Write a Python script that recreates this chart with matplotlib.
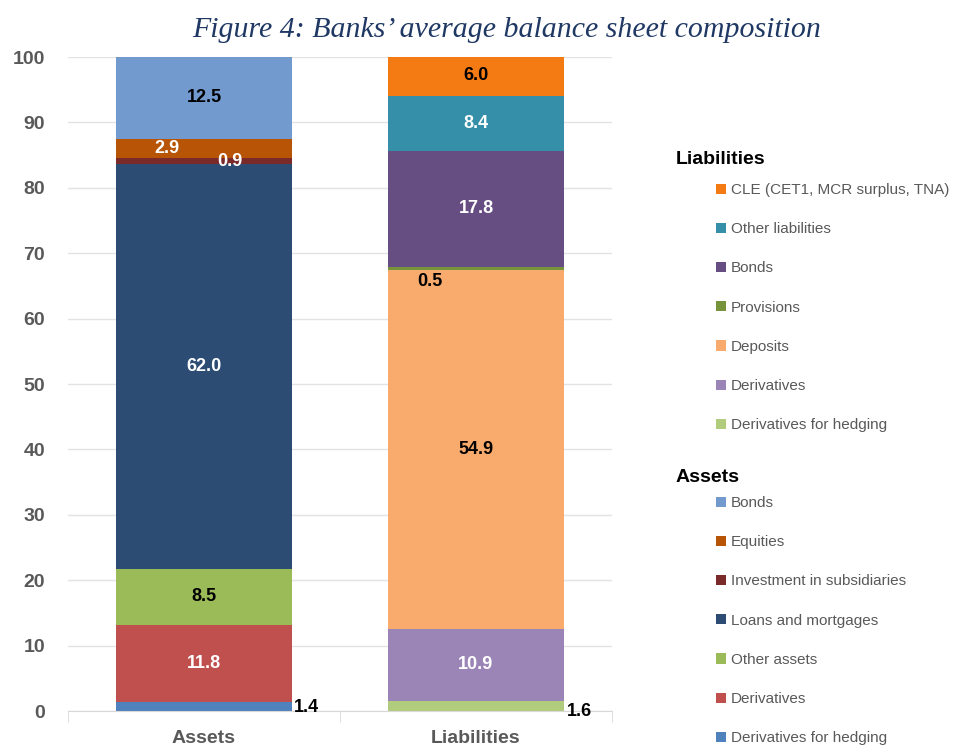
import matplotlib.pyplot as plt
from matplotlib.patches import Patch

# data (percent of total balance sheet), bottom to top
categories = ['Assets', 'Liabilities']

asset_names = ['Derivatives for hedging', 'Derivatives', 'Other assets',
               'Loans and mortgages', 'Investment in subsidiaries', 'Equities', 'Bonds']
asset_values = [1.4, 11.8, 8.5, 62.0, 0.9, 2.9, 12.5]
asset_colors = ['#4F81BD', '#C0504D', '#9BBB59', '#2C4C73', '#7B2A2A', '#B85406', '#729ACF']
asset_text = ['black', 'white', 'black', 'white', 'white', 'white', 'black']

liab_names = ['Derivatives for hedging', 'Derivatives', 'Deposits', 'Provisions',
              'Bonds', 'Other liabilities', 'CLE (CET1, MCR surplus, TNA)']
liab_values = [1.6, 10.9, 54.9, 0.5, 17.8, 8.4, 6.0]
liab_colors = ['#B1CC7D', '#9B85B7', '#F9AB6D', '#77933C', '#664E82', '#358FA8', '#F47A13']
liab_text = ['black', 'white', 'black', 'black', 'white', 'white', 'black']

plt.rcParams['font.family'] = ['Liberation Sans', 'DejaVu Sans']

fig = plt.figure(figsize=(9.54, 7.52), dpi=100)
ax = fig.add_axes([0.0713, 0.0545, 0.5702, 0.8697])

width = 0.645
# label offsets for the thin segments (x shift, y shift, ha)
asset_adj = {0: (0.33, -0.2, 'left'), 4: (0.096, -0.2, 'center'), 5: (-0.136, 0, 'center')}
liab_adj = {0: (0.335, -0.8, 'left'), 3: (-0.17, -1.9, 'center')}

for xi, vals, cols, tcols, adj in [(0, asset_values, asset_colors, asset_text, asset_adj),
                                   (1, liab_values, liab_colors, liab_text, liab_adj)]:
    bottom = 0
    for i, v in enumerate(vals):
        ax.bar(xi, v, width, bottom=bottom, color=cols[i], edgecolor='none', zorder=2)
        dx, dy, ha = adj.get(i, (0, 0, 'center'))
        ax.text(xi + dx, bottom + v / 2 + dy, f'{v:.1f}', ha=ha, va='center',
                fontsize=13, fontweight='bold', color=tcols[i], zorder=3)
        bottom += v

ax.set_xlim(-0.5, 1.5)
ax.set_ylim(0, 100)
ax.set_yticks(range(0, 101, 10))
ax.yaxis.grid(True, color='#E3E3E3', linewidth=1, zorder=0)
ax.set_axisbelow(True)
ax.set_xticks([0, 1])
ax.set_xticklabels(categories)
ax.set_xticks([-0.5, 0.5, 1.5], minor=True)
ax.tick_params(axis='x', which='major', length=0, pad=14, labelsize=14, labelcolor='#595959')
ax.tick_params(axis='x', which='minor', length=8, color='#D9D9D9')
ax.tick_params(axis='y', length=0, pad=16.5, labelsize=14, labelcolor='#595959')
for lab in ax.get_xticklabels() + ax.get_yticklabels():
    lab.set_fontweight('bold')
for s in ['left', 'right', 'top']:
    ax.spines[s].set_visible(False)
ax.spines['bottom'].set_color('#D9D9D9')

fig.text(0.5314, 0.9605, 'Figure 4: Banks\u2019 average balance sheet composition',
         ha='center', va='center', fontsize=21.5, style='italic',
         family='Liberation Serif', color='#1F3864')

# legends
def add_legend(names, colors, title, ytitle, ytop):
    handles = [Patch(facecolor=c, edgecolor='none') for c in colors[::-1]]
    fig.text(676 / 954, 1 - ytitle / 752, title, ha='left', va='center',
             fontsize=14, fontweight='bold', color='black')
    leg = fig.legend(handles, names[::-1], loc='upper left',
                     bbox_to_anchor=(716 / 954, 1 - ytop / 752), frameon=False,
                     fontsize=11, labelcolor='#595959', labelspacing=1.65,
                     handlelength=0.65, handleheight=0.65, handletextpad=0.3,
                     borderpad=0, borderaxespad=0)
    return leg

add_legend(liab_names, liab_colors, 'Liabilities', 160, 183)
add_legend(asset_names, asset_colors, 'Assets', 478, 496)

plt.savefig('out.png', dpi=100)
